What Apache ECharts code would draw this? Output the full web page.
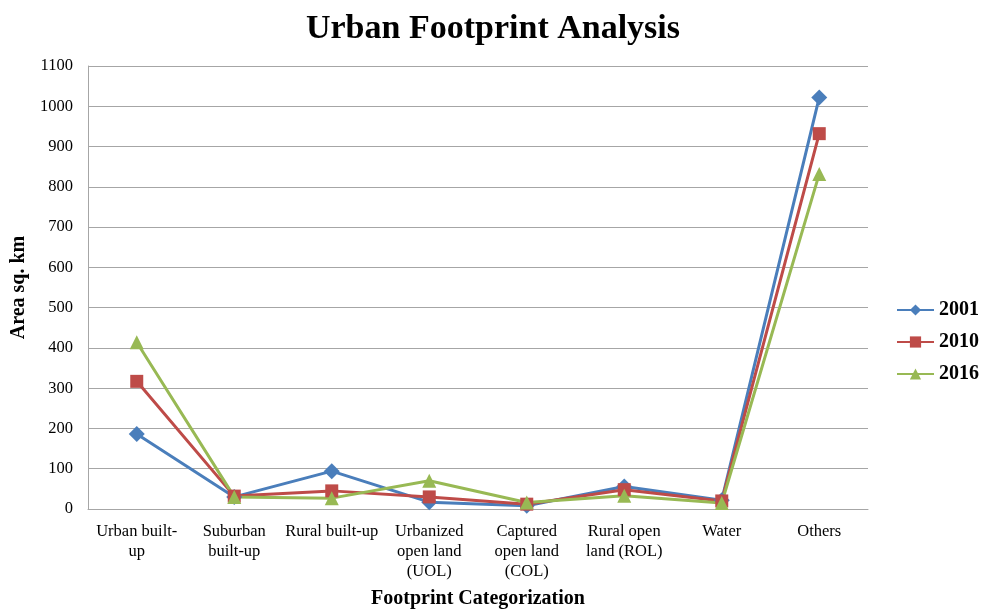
<!DOCTYPE html>
<html><head><meta charset="utf-8">
<script src="https://cdn.jsdelivr.net/npm/echarts@6/dist/echarts.min.js"></script>
<style>html,body{margin:0;padding:0;background:#fff}#c{width:989px;height:611px}</style>
</head><body><div id="c"></div>
<script>
const categories = ["Urban built-\nup", "Suburban\nbuilt-up", "Rural built-up", "Urbanized\nopen land\n(UOL)", "Captured\nopen land\n(COL)", "Rural open\nland (ROL)", "Water", "Others"];
const s2001 = [186, 30, 94, 17, 8, 56, 22, 1022];
const s2010 = [317, 32, 45, 30, 12, 48, 20, 932];
const s2016 = [414, 30, 27, 70, 16, 33, 15, 832];
const yTicks = {min: 0, max: 1100, interval: 100};

const font = "'Liberation Serif','Times New Roman',serif";
const chart = echarts.init(document.getElementById('c'));
function ser(name, data, color, symbol, size) {
  return {name, type: 'line', data, symbol, symbolSize: size,
    lineStyle: {color, width: 3}, itemStyle: {color}, color};
}
chart.setOption({
  animation: false,
  title: {text: 'Urban Footprint Analysis', left: 488, textAlign: 'center', top: 7,
    textStyle: {fontFamily: font, fontSize: 34, fontWeight: 'bold', color: '#000'}},
  legend: {orient: 'vertical', left: 891, top: 295, itemGap: 12, itemWidth: 37, itemHeight: 14,
    textStyle: {fontFamily: font, fontSize: 20, fontWeight: 'bold', color: '#000'},
    data: ['2001', '2010', '2016']},
  grid: {left: 88, right: 121, top: 66, bottom: 102, containLabel: false, outerBoundsMode: 'none'},
  xAxis: {type: 'category', data: categories, boundaryGap: true,
    name: 'Footprint Categorization', nameLocation: 'middle', nameGap: 80,
    nameTextStyle: {fontFamily: font, fontSize: 20, fontWeight: 'bold', color: '#000'},
    axisLine: {lineStyle: {color: '#a6a6a6', width: 1}}, axisTick: {show: false},
    axisLabel: {fontFamily: font, fontSize: 16.5, color: '#000', lineHeight: 20, margin: 13, interval: 0}},
  yAxis: {type: 'value', min: yTicks.min, max: yTicks.max, interval: yTicks.interval,
    name: 'Area sq. km', nameLocation: 'middle', nameGap: 56, nameRotate: 90,
    nameTextStyle: {fontFamily: font, fontSize: 20, fontWeight: 'bold', color: '#000'},
    axisLine: {show: true, lineStyle: {color: '#a6a6a6', width: 1}}, axisTick: {show: false},
    axisLabel: {fontFamily: font, fontSize: 16.5, color: '#000', margin: 15, formatter: v => String(v)},
    splitLine: {lineStyle: {color: '#a6a6a6', width: 1}}},
  series: [
    ser('2001', s2001, '#4a7ebb', 'diamond', 16),
    ser('2010', s2010, '#be4b48', 'rect', 13),
    ser('2016', s2016, '#98b954', 'triangle', 14)
  ]
});
</script></body></html>
